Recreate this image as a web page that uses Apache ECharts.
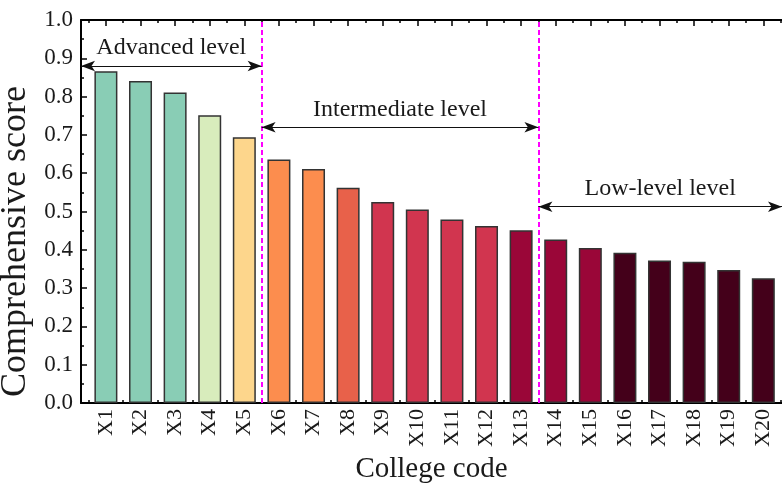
<!DOCTYPE html>
<html><head><meta charset="utf-8">
<script src="https://cdn.jsdelivr.net/npm/echarts@6/dist/echarts.min.js"></script>
<style>html,body{margin:0;padding:0;background:#fff}#c{width:782px;height:486px}</style>
</head><body><div id="c"></div>
<script>
const categories = ['X1','X2','X3','X4','X5','X6','X7','X8','X9','X10','X11','X12','X13','X14','X15','X16','X17','X18','X19','X20'];
const scores = [0.866,0.841,0.811,0.751,0.694,0.636,0.611,0.562,0.525,0.505,0.479,0.462,0.451,0.427,0.405,0.392,0.372,0.369,0.347,0.326];
const barColors = ['#89cdb5','#89cdb5','#89cdb5','#d8ecbc','#fdd68c','#fc8d4e','#fc8d4e','#e8614a','#d1354f','#d1354f','#d1354f','#d1354f','#9a0638','#9a0638','#9a0638','#44001a','#44001a','#44001a','#44001a','#44001a'];
const levelNames = ['Advanced level','Intermediate level','Low-level level'];
const levelStart = [0.28, 5.5, 13.5];
const levelEnd = [5.5, 13.5, 20.54];
const levelArrowY = [0.88, 0.72, 0.5125];
const dividers = [5.5, 13.5];
const xMin = 0.28, xMax = 20.54;

const positions = categories.map((c, i) => i + 1);
const halfPositions = [0.5].concat(positions.map(p => p + 0.5));
const FONT = 'Liberation Serif';
const TXT = '#1a1a1a';

const chart = echarts.init(document.getElementById('c'));

const barData = scores.map((v, i) => ({ value: [positions[i], v], itemStyle: { color: barColors[i] } }));

const markData = dividers.map(d => ([
  { coord: [d, 0], symbol: 'none',
    lineStyle: { color: '#ff00ff', type: [5, 3], width: 2 },
    label: { show: false } },
  { coord: [d, 1], symbol: 'none' }
]));
levelNames.forEach((name, i) => {
  markData.push([
    { coord: [levelStart[i], levelArrowY[i]], symbol: 'arrow',
      lineStyle: { color: '#111', width: 1, type: 'solid' },
      label: { show: true, formatter: name, position: 'insideMiddleTop', distance: 6,
        fontFamily: FONT, fontSize: 24, color: TXT } },
    { coord: [levelEnd[i], levelArrowY[i]], symbol: 'arrow' }
  ]);
});

function tickAxis(pos, vals, len, showLine) {
  return {
    type: 'value', position: pos, min: xMin, max: xMax,
    axisLine: { show: showLine, onZero: false, lineStyle: { color: '#000', width: 2 } },
    axisTick: { show: true, inside: true, length: len, customValues: vals, lineStyle: { color: '#000', width: 1.5 } },
    axisLabel: { show: false },
    splitLine: { show: false }
  };
}

const option = {
  animation: false,
  grid: { left: 81, right: 0, top: 20, bottom: 83, containLabel: false, outerBoundsMode: 'none' },
  xAxis: [
    {
      type: 'value', position: 'bottom', min: xMin, max: xMax,
      name: 'College code', nameLocation: 'middle', nameGap: 50,
      nameTextStyle: { fontFamily: FONT, fontSize: 29, color: TXT },
      axisLine: { show: true, onZero: false, lineStyle: { color: '#000', width: 2 } },
      axisTick: { show: true, inside: true, length: 6, customValues: positions, lineStyle: { color: '#000', width: 1.5 } },
      axisLabel: { show: true, customValues: positions, rotate: 90, margin: 6,
        formatter: v => categories[Math.round(v) - 1],
        fontFamily: FONT, fontSize: 22, color: TXT },
      splitLine: { show: false }
    },
    tickAxis('bottom', halfPositions, 3, false),
    tickAxis('top', positions, 6, true),
    tickAxis('top', halfPositions, 3, false)
  ],
  yAxis: [{
    type: 'value', min: 0, max: 1, interval: 0.1,
    name: 'Comprehensive score', nameLocation: 'middle', nameGap: 45,
    nameTextStyle: { fontFamily: FONT, fontSize: 36, color: TXT, padding: [0, 60, 0, 0] },
    axisLine: { show: true, lineStyle: { color: '#000', width: 2 } },
    axisTick: { show: true, inside: true, length: 6, lineStyle: { color: '#000', width: 1.5 } },
    minorTick: { show: true, splitNumber: 2, length: 3, lineStyle: { color: '#000', width: 1.5 } },
    axisLabel: { formatter: v => v.toFixed(1), fontFamily: FONT, fontSize: 23, color: TXT, margin: 8 },
    splitLine: { show: false }
  }],
  series: [{
    type: 'bar', xAxisIndex: 0, yAxisIndex: 0, barWidth: 23,
    data: barData,
    itemStyle: { borderColor: '#333', borderWidth: 1.5 },
    markLine: { silent: true, symbol: 'none', symbolSize: [8, 14], data: markData, animation: false }
  }]
};
chart.setOption(option);
</script></body></html>
